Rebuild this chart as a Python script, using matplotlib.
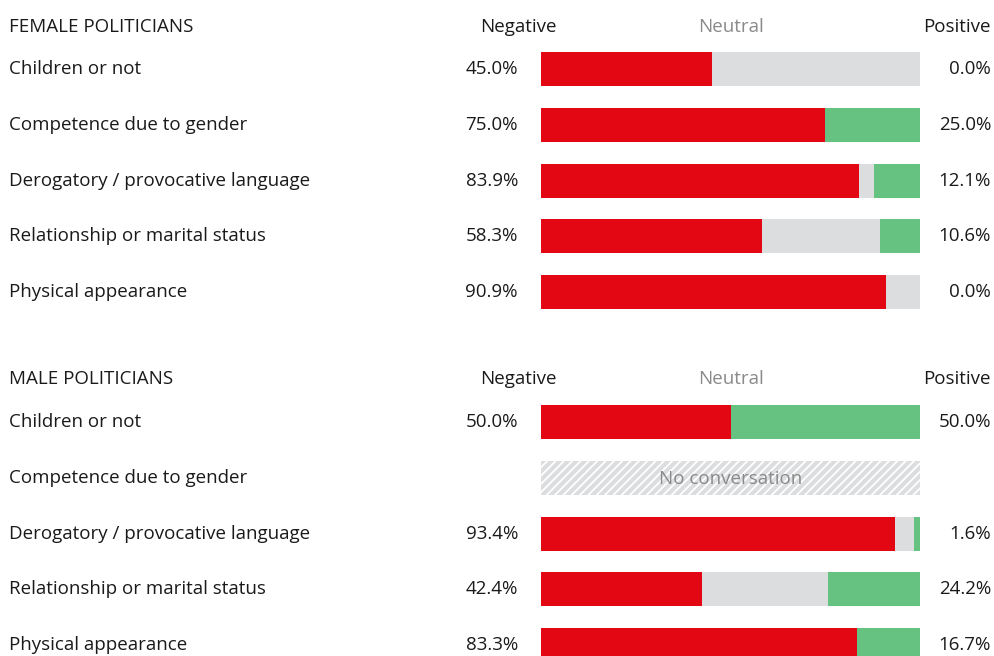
import matplotlib
matplotlib.use("Agg")
import matplotlib.pyplot as plt
import matplotlib.transforms as mtransforms

plt.rcParams['font.family'] = ['Open Sans', 'DejaVu Sans']
plt.rcParams['hatch.linewidth'] = 1.3

categories = ["Children or not", "Competence due to gender",
              "Derogatory / provocative language", "Relationship or marital status",
              "Physical appearance"]

groups = ["FEMALE POLITICIANS", "MALE POLITICIANS"]
female_negative = [45.0, 75.0, 83.9, 58.3, 90.9]
female_positive = [0.0, 25.0, 12.1, 10.6, 0.0]
male_negative = [50.0, None, 93.4, 42.4, 83.3]
male_positive = [50.0, None, 1.6, 24.2, 16.7]
header_labels = ["Negative", "Neutral", "Positive"]
no_data_label = "No conversation"

RED = "#E30613"
GREY = "#DCDDDF"
GREEN = "#66C281"
TXT = "#1a1a1a"
NEUTRAL_TXT = "#8a8a8a"

W, H = 994, 656
fig = plt.figure(figsize=(W / 100, H / 100), dpi=100)

# layout (pixels)
bar_x0, bar_x1 = 541, 920
row_step = 55.8
bar_h = 34
group_first_row = [69, 422]
header_offset = 43

ax = fig.add_axes([bar_x0 / W, 0, (bar_x1 - bar_x0) / W, 1])
ax.set_xlim(0, 100)
ax.set_ylim(H, 0)
ax.axis("off")

pix = mtransforms.blended_transform_factory(
    mtransforms.Affine2D().scale(1 / W, 1) + fig.transFigure, ax.transData)

fs = 13.5
series = [(female_negative, female_positive), (male_negative, male_positive)]
for g, (negs, poss) in enumerate(series):
    y0 = group_first_row[g]
    hy = y0 - header_offset + (1 if g == 0 else 0)
    ax.text(9, hy, groups[g], transform=pix, ha="left", va="center", fontsize=fs, color=TXT)
    ax.text(557, hy, header_labels[0], transform=pix, ha="right", va="center", fontsize=fs, color=TXT)
    ax.text(50, hy, header_labels[1], ha="center", va="center", fontsize=fs, color=NEUTRAL_TXT)
    ax.text(991, hy, header_labels[2], transform=pix, ha="right", va="center", fontsize=fs, color=TXT)
    for i, cat in enumerate(categories):
        y = y0 + i * row_step
        ax.text(9, y, cat, transform=pix, ha="left", va="center", fontsize=fs, color=TXT)
        neg, pos = negs[i], poss[i]
        if neg is None:
            ax.barh(y, 100, left=0, height=bar_h, color=GREY, edgecolor="white",
                    hatch="////", linewidth=0)
            ax.text(50, y + 1, no_data_label, ha="center", va="center", fontsize=fs,
                    color=NEUTRAL_TXT)
            continue
        neu = 100 - neg - pos
        ax.barh(y, neg, left=0, height=bar_h, color=RED, linewidth=0)
        ax.barh(y, neu, left=neg, height=bar_h, color=GREY, linewidth=0)
        ax.barh(y, pos, left=neg + neu, height=bar_h, color=GREEN, linewidth=0)
        ax.text(518, y, f"{neg:.1f}%", transform=pix, ha="right", va="center", fontsize=fs, color=TXT)
        ax.text(991, y, f"{pos:.1f}%", transform=pix, ha="right", va="center", fontsize=fs, color=TXT)

fig.savefig("out.png", dpi=100, facecolor="white")
